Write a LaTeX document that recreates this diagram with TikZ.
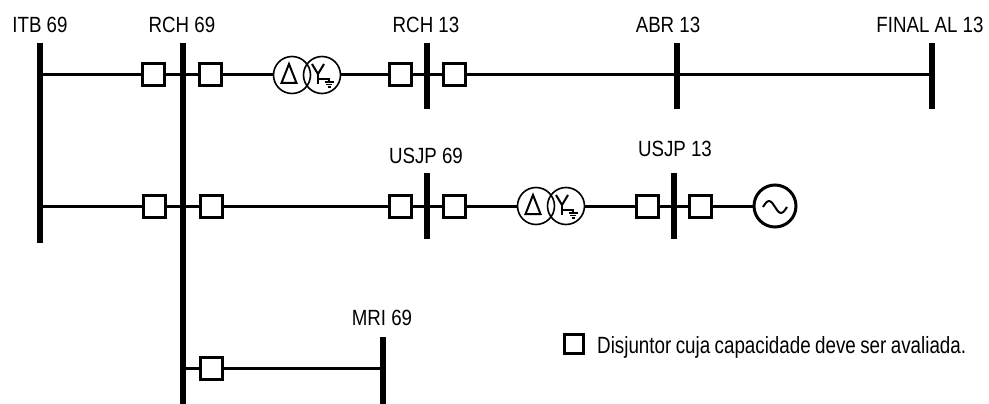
\documentclass[tikz,border=0pt]{standalone}
\usepackage{fontspec}
\setmainfont[FakeStretch=0.85]{Liberation Sans}
\newfontfamily\legfont[FakeStretch=0.80]{Liberation Sans}
\newcommand\legtext{\legfont\fontsize{23.5}{27}\selectfont\spaceskip=4.4pt plus 1pt minus 1pt\relax}
\begin{document}
\begin{tikzpicture}[x=1pt,y=-1pt,
  busline/.style={line width=5.5pt},
  wire/.style={line width=3pt},
  brk/.style={draw,rectangle,line width=3pt,fill=white,minimum size=22pt,inner sep=0pt,outer sep=0pt},
  tcirc/.style={draw,circle,line width=1.6pt,minimum size=37pt,inner sep=0pt,outer sep=0pt},
  gen/.style={draw,circle,line width=3pt,minimum size=42pt,inner sep=0pt,outer sep=0pt},
  sym/.style={line width=2pt},
  gnd/.style={line width=1.3pt},
  lbl/.style={anchor=base,inner sep=0pt,font=\fontsize{22}{26}\selectfont},
  leg/.style={anchor=base west,inner sep=0pt}
]
\useasboundingbox (0,0) rectangle (989,404);

% bus coordinates
\coordinate (itbT) at (40,43);   \coordinate (itbB) at (40,243);
\coordinate (rchT) at (183,43);  \coordinate (rchB) at (183,406);
\coordinate (r13T) at (427,43);  \coordinate (r13B) at (427,109);
\coordinate (abrT) at (677,43);  \coordinate (abrB) at (677,109);
\coordinate (finT) at (932,43);  \coordinate (finB) at (932,109);
\coordinate (u69T) at (427,173); \coordinate (u69B) at (427,239);
\coordinate (u13T) at (674,173); \coordinate (u13B) at (674,239);
\coordinate (mriT) at (383,337); \coordinate (mriB) at (383,406);

% connection points on buses
\coordinate (itbA) at (40,75);
\coordinate (finA) at (932,75);
\coordinate (itbC) at (40,206);
\coordinate (rchM) at (183,368);
\coordinate (mriM) at (383,368);

% breakers
\node[brk] (b11) at (153,75) {};
\node[brk] (b12) at (210,75) {};
\node[brk] (b13) at (400,75) {};
\node[brk] (b14) at (454,75) {};
\node[brk] (b21) at (154,206) {};
\node[brk] (b22) at (211,206) {};
\node[brk] (b23) at (400,206) {};
\node[brk] (b24) at (454,206) {};
\node[brk] (b25) at (647,206) {};
\node[brk] (b26) at (700,206) {};
\node[brk] (b31) at (211,368) {};

% transformers
\node[tcirc] (t1d) at (292,75) {};
\node[tcirc] (t1y) at (322,75) {};
\node[tcirc] (t2d) at (536,206) {};
\node[tcirc] (t2y) at (566,206) {};

% generator
\node[gen] (g) at (775,206) {};

% wires
\draw[wire] (itbA) -- (b11);
\draw[wire] (b11) -- (b12);
\draw[wire] (b12) -- (t1d);
\draw[wire] (t1y) -- (b13);
\draw[wire] (b13) -- (b14);
\draw[wire] (b14) -- (finA);
\draw[wire] (itbC) -- (b21);
\draw[wire] (b21) -- (b22);
\draw[wire] (b22) -- (b23);
\draw[wire] (b23) -- (b24);
\draw[wire] (b24) -- (t2d);
\draw[wire] (t2y) -- (b25);
\draw[wire] (b25) -- (b26);
\draw[wire] (b26) -- (g);
\draw[wire] (rchM) -- (b31);
\draw[wire] (b31) -- (mriM);

% buses
\draw[busline] (itbT) -- (itbB);
\draw[busline] (rchT) -- (rchB);
\draw[busline] (r13T) -- (r13B);
\draw[busline] (abrT) -- (abrB);
\draw[busline] (finT) -- (finB);
\draw[busline] (u69T) -- (u69B);
\draw[busline] (u13T) -- (u13B);
\draw[busline] (mriT) -- (mriB);

% redraw breakers on top of buses
\foreach \b in {b11,b12,b13,b14,b21,b22,b23,b24,b25,b26,b31}{
  \draw[line width=3pt,fill=white] (\b.south west) rectangle (\b.north east);
}

% transformer symbols
\foreach \d/\y in {t1d/t1y,t2d/t2y}{
  \draw[sym,line join=miter] ([shift={(-3,-11)}]\d.center) -- ([shift={(-10.5,8)}]\d.center) -- ([shift={(4.5,8)}]\d.center) -- cycle;
  \draw[sym] ([shift={(-10,-11)}]\y.center) -- ([shift={(-4,-1)}]\y.center) -- ([shift={(2,-11)}]\y.center);
  \draw[sym] ([shift={(-4,-1)}]\y.center) -- ([shift={(-4,9)}]\y.center);
  \draw[gnd] ([shift={(-4,4)}]\y.center) -- ([shift={(7,4)}]\y.center) -- ([shift={(7,7)}]\y.center);
  \draw[gnd] ([shift={(2.5,7)}]\y.center) -- ([shift={(11.5,7)}]\y.center);
  \draw[gnd] ([shift={(4,9.5)}]\y.center) -- ([shift={(10,9.5)}]\y.center);
  \draw[gnd] ([shift={(5.5,12)}]\y.center) -- ([shift={(8.5,12)}]\y.center);
}

% generator sine
\draw[line width=2pt] ([shift={(-12,1)}]g.center) sin ([shift={(-6,-5)}]g.center) cos ([shift={(0,1)}]g.center) sin ([shift={(6,7)}]g.center) cos ([shift={(12,1)}]g.center);

% labels
\node[lbl] (lITB) at (40,33) {ITB 69};
\node[lbl] (lRCH) at (182,33) {RCH 69};
\node[lbl] (lR13) at (426,33) {RCH 13};
\node[lbl] (lABR) at (668,33) {ABR 13};
\node[lbl] (lFIN) at (930,33) {FINAL AL 13};
\node[lbl] (lU69) at (426,163) {USJP 69};
\node[lbl] (lU13) at (675,157) {USJP 13};
\node[lbl] (lMRI) at (382,325) {MRI 69};

% legend
\node[draw,rectangle,line width=3.5pt,minimum size=19pt,inner sep=0pt] (legbox) at (574,344) {};
\node[leg] (legtxt) at (597,353) {\legtext Disjuntor cuja capacidade deve ser avaliada.};
\end{tikzpicture}
\end{document}
